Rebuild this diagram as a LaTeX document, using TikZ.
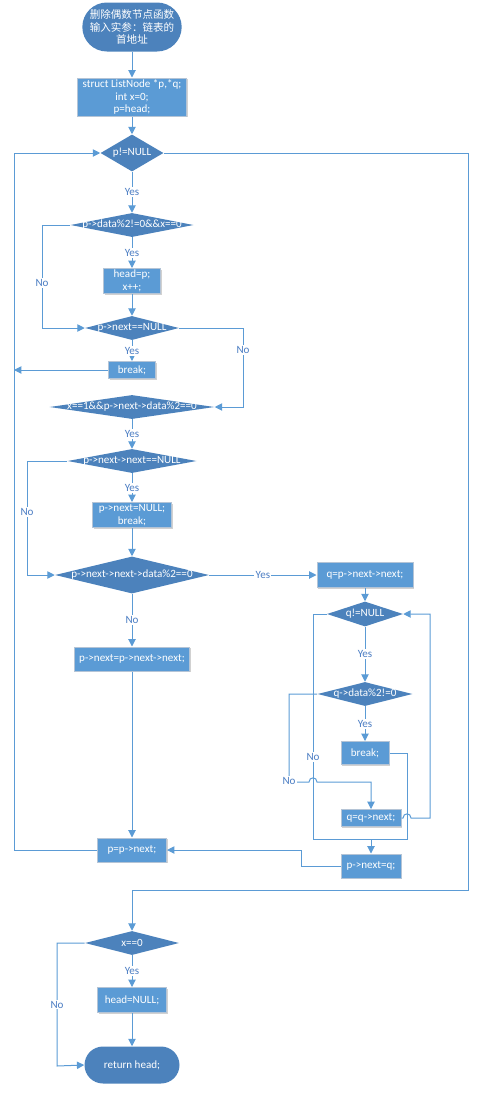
\documentclass[tikz,border=0pt]{standalone}
\usepackage{fontspec}
\setmainfont{Carlito}
\newfontfamily\cjk{Noto Sans CJK SC}
\usetikzlibrary{shapes.geometric,shapes.misc,arrows.meta,shadows}
\definecolor{boxblue}{RGB}{91,155,213}
\definecolor{dkblue}{RGB}{76,130,188}
\definecolor{edgegray}{RGB}{180,196,214}
\definecolor{lineblue}{RGB}{91,155,213}
\definecolor{lblblue}{RGB}{75,125,195}
\begin{document}
\begin{tikzpicture}[x=0.75pt,y=-0.75pt,
  font=\fontsize{8.3}{9.6}\selectfont,
  every node/.style={inner sep=0pt},
  proc/.style={rectangle, fill=boxblue, draw=edgegray, line width=0.75pt, align=center, text=white,
    drop shadow={shadow xshift=1pt,shadow yshift=-1pt,fill=black,opacity=0.18}},
  dec/.style={diamond, fill=dkblue, text=white},
  term/.style={rounded rectangle, fill=dkblue, align=center, text=white},
  conn/.style={draw=lineblue, line width=0.75pt, -{Triangle[length=5.5pt,width=5.5pt]}},
  plain/.style={draw=lineblue, line width=0.75pt},
  lbl/.style={fill=white, text=lblblue, inner sep=1pt}
]
\useasboundingbox (0,0) rectangle (479,1093);

% main column
\node[term, minimum width=71.25pt, minimum height=36.75pt] (start) at (132,27)
  {\cjk\fontsize{7.9}{10}\selectfont 删除偶数节点函数\\ \cjk\fontsize{7.9}{10}\selectfont 输入实参：链表的\\ \cjk\fontsize{7.9}{10}\selectfont 首地址};
\node[proc, minimum width=81.75pt, minimum height=28.5pt] (init) at (132,97)
  {struct ListNode *p,*q;\\ int x=0;\\ p=head;};
\node[dec, minimum width=47.25pt, minimum height=27.75pt] (d1) at (132,153) {\makebox[0pt]{p!=NULL}};
\node[dec, minimum width=92.25pt, minimum height=18pt] (d2) at (132,225) {\makebox[0pt]{p->data\%2!=0\&\&x==0}};
\node[proc, minimum width=42.75pt, minimum height=18.75pt] (b2) at (132,281) {head=p;\\ x++;};
\node[dec, minimum width=70.5pt, minimum height=18pt] (d3) at (132,328) {\makebox[0pt]{p->next==NULL}};
\node[proc, minimum width=35.25pt, minimum height=12.75pt] (b3) at (132,370) {break;};
\node[dec, minimum width=123.75pt, minimum height=18pt] (d4) at (132,407) {\makebox[0pt]{x==1\&\&p->next->data\%2==0}};
\node[dec, minimum width=96.75pt, minimum height=18pt] (d5) at (132,461) {\makebox[0pt]{p->next->next==NULL}};
\node[proc, minimum width=59.25pt, minimum height=18.75pt] (b5) at (132,515) {p->next=NULL;\\ break;};
\node[dec, minimum width=115.5pt, minimum height=27.75pt] (d6) at (132,575) {\makebox[0pt]{p->next->next->data\%2==0}};
\node[proc, minimum width=86.25pt, minimum height=18pt] (b6) at (132,659) {p->next=p->next->next;};
\node[proc, minimum width=51.75pt, minimum height=18pt] (b7) at (132,850) {p=p->next;};

% right column
\node[proc, minimum width=72pt, minimum height=18.75pt] (bq1) at (365,575) {q=p->next->next;};
\node[dec, minimum width=57pt, minimum height=18.75pt] (dq1) at (365,614) {\makebox[0pt]{q!=NULL}};
\node[dec, minimum width=71.25pt, minimum height=18pt] (dq2) at (365,694) {\makebox[0pt]{q->data\%2!=0}};
\node[proc, minimum width=36pt, minimum height=17.25pt] (bbreak) at (365,753) {break;};
\node[proc, minimum width=45pt, minimum height=12.75pt] (bqn) at (371,818) {q=q->next;};
\node[proc, minimum width=45pt, minimum height=18pt] (bpq) at (371,866) {p->next=q;};

% bottom
\node[dec, minimum width=70.5pt, minimum height=18pt] (d7) at (132,943) {\makebox[0pt]{x==0}};
\node[proc, minimum width=51.75pt, minimum height=18.75pt] (b8) at (132,1000) {head=NULL;};
\node[term, minimum width=71.25pt, minimum height=27.75pt] (end) at (132,1065) {return head;};

% connectors
\draw[conn] (start.south) -- (init.north);
\draw[conn] (init.south) -- (d1.north);
\draw[conn] (d1.south) -- node[lbl]{Yes} (d2.north);
\draw[conn] (d2.south) -- node[lbl]{Yes} (b2.north);
\draw[conn] (d2.west) -- (42,225) -- node[lbl,pos=0.56]{No} (42,328) -- (d3.west);
\draw[conn] (b2.south) -- (d3.north);
\draw[conn] (d3.south) -- node[lbl]{Yes} (b3.north);
\draw[conn] (d3.east) -- (243,328) -- node[lbl,pos=0.28]{No} (243,407) -- (d4.east);
\draw[conn] (b3.west) -- (14,370);
\draw[conn] (d4.south) -- node[lbl]{Yes} (d5.north);
\draw[conn] (d5.south) -- node[lbl]{Yes} (b5.north);
\draw[conn] (d5.west) -- (27,461) -- node[lbl,pos=0.45]{No} (27,575) -- (d6.west);
\draw[conn] (b5.south) -- (d6.north);
\draw[conn] (d6.east) -- node[lbl]{Yes} (bq1.west);
\draw[conn] (d6.south) -- node[lbl]{No} (b6.north);
\draw[conn] (b6.south) -- (b7.north);
\draw[conn] (b7.west) -- (14,850) -- (14,153) -- (d1.west);
\draw[conn] (d1.east) -- (468,153) -- (468,890) -- (132,890) -- (d7.north);

\draw[conn] (bq1.south) -- (dq1.north);
\draw[conn] (dq1.south) -- node[lbl]{Yes} (dq2.north);
\draw[conn] (dq2.south) -- node[lbl]{Yes} (bbreak.north);
\draw[conn] (dq1.west) -- (313,614) -- node[lbl,pos=0.636]{No} (313,839) -- (371,839) -- (bpq.north);
\draw[plain] (bbreak.east) -- (407,753) -- (407,839) -- (371,839);
\draw[conn] (dq2.west) -- (289,694) -- (289,782) -- (309,782) .. controls (309,776.5) and (317,776.5) .. (317,782) -- (371,782) -- (bqn.north);
\node[lbl] (noq) at (289,781) {No};
\draw[conn] (bqn.east) -- (403,818) .. controls (403,812.5) and (411,812.5) .. (411,818) -- (430,818) -- (430,614) -- (dq1.east);
\draw[conn] (bpq.west) -- (301,866) -- (301,850) -- (b7.east);

\draw[conn] (d7.south) -- node[lbl]{Yes} (b8.north);
\draw[conn] (d7.west) -- (57,943) -- node[lbl,pos=0.5]{No} (57,1066) -- (end.west);
\draw[conn] (b8.south) -- (end.north);
\end{tikzpicture}
\end{document}
